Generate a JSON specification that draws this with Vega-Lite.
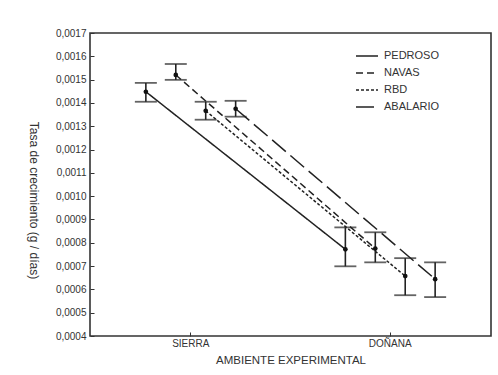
{
  "$schema": "https://vega.github.io/schema/vega-lite/v6.json",
  "width": 401,
  "height": 303,
  "autosize": "none",
  "padding": {"left": 90, "top": 33, "right": 7, "bottom": 39},
  "background": "white",
  "config": {
    "font": "Liberation Sans",
    "view": {"stroke": "#333333", "strokeWidth": 1.6},
    "axisY": {
      "titleAngle": 90,
      "titleFont": "Liberation Sans",
      "titleFontSize": 12,
      "titleFontWeight": "normal",
      "titleColor": "#333333",
      "titleX": -57,
      "titleY": 167,
      "titleAlign": "center",
      "titleBaseline": "middle",
      "labelOverlap": false,
      "labelFont": "Liberation Sans",
      "labelFontSize": 10,
      "labelColor": "#333333",
      "labelPadding": 8,
      "tickSize": -4,
      "tickColor": "#333333",
      "domain": false,
      "grid": false
    }
  },
  "data": {
    "values": [
      {"ambiente": "SIERRA", "serie": "PEDROSO", "media": 0.001448, "inf": 0.001405, "sup": 0.001486},
      {"ambiente": "SIERRA", "serie": "NAVAS", "media": 0.00152, "inf": 0.001499, "sup": 0.001567},
      {"ambiente": "SIERRA", "serie": "RBD", "media": 0.001366, "inf": 0.001328, "sup": 0.001405},
      {"ambiente": "SIERRA", "serie": "ABALARIO", "media": 0.001375, "inf": 0.001341, "sup": 0.001409},
      {"ambiente": "DOÑANA", "serie": "PEDROSO", "media": 0.000772, "inf": 0.000699, "sup": 0.000866},
      {"ambiente": "DOÑANA", "serie": "NAVAS", "media": 0.000775, "inf": 0.000716, "sup": 0.000845},
      {"ambiente": "DOÑANA", "serie": "RBD", "media": 0.000657, "inf": 0.000575, "sup": 0.000734},
      {"ambiente": "DOÑANA", "serie": "ABALARIO", "media": 0.000644, "inf": 0.000567, "sup": 0.000716}
    ]
  },
  "encoding": {
    "x": {
      "field": "ambiente",
      "type": "nominal",
      "sort": ["SIERRA", "DOÑANA"],
      "scale": {"type": "band", "domain": ["SIERRA", "DOÑANA"], "paddingInner": 0.4, "paddingOuter": 0.205},
      "axis": {
        "title": "AMBIENTE EXPERIMENTAL",
        "titleFont": "Liberation Sans",
        "titleFontSize": 11.5,
        "titleFontWeight": "normal",
        "titleColor": "#333333",
        "titlePadding": 6,
        "labelFont": "Liberation Sans",
        "labelFontSize": 10,
        "labelColor": "#333333",
        "labelAngle": 0,
        "labelPadding": 6,
        "ticks": true,
        "tickSize": -4,
        "tickColor": "#333333",
        "domain": false
      }
    },
    "xOffset": {
      "field": "serie",
      "type": "nominal",
      "sort": ["PEDROSO", "NAVAS", "RBD", "ABALARIO"],
      "scale": {"domain": ["PEDROSO", "NAVAS", "RBD", "ABALARIO"], "paddingInner": 0, "paddingOuter": 0}
    }
  },
  "layer": [
    {
      "mark": {"type": "line", "color": "#222222", "strokeWidth": 1.5},
      "encoding": {
        "y": {
          "field": "media",
          "type": "quantitative",
          "scale": {"domain": [0.0004, 0.0017], "nice": false, "zero": false},
          "axis": {
            "title": "Tasa de crecimiento (g / días)",
            "values": [0.0004, 0.0005, 0.0006, 0.0007, 0.0008, 0.0009, 0.001, 0.0011, 0.0012, 0.0013, 0.0014, 0.0015, 0.0016, 0.0017],
            "labelExpr": "replace(format(datum.value, '.4f'), '.', ',')"
          }
        },
        "strokeDash": {
          "field": "serie",
          "type": "nominal",
          "scale": {"domain": ["PEDROSO", "NAVAS", "RBD", "ABALARIO"], "range": [[1, 0], [7, 4], [3, 2], [18, 6]]},
          "legend": {
            "title": null,
            "orient": "none",
            "legendX": 265,
            "legendY": 11,
            "symbolType": "stroke",
            "symbolSize": 484,
            "symbolStrokeWidth": 1.5,
            "symbolStrokeColor": "#222222",
            "labelFont": "Liberation Sans",
            "labelFontSize": 11,
            "labelColor": "#333333",
            "rowPadding": -5.5,
            "labelOffset": 5
          }
        }
      }
    },
    {
      "mark": {"type": "rule", "color": "#222222", "strokeWidth": 1.6},
      "encoding": {
        "y": {
          "field": "inf",
          "type": "quantitative",
          "axis": {
            "title": "Tasa de crecimiento (g / días)",
            "values": [0.0004, 0.0005, 0.0006, 0.0007, 0.0008, 0.0009, 0.001, 0.0011, 0.0012, 0.0013, 0.0014, 0.0015, 0.0016, 0.0017],
            "labelExpr": "replace(format(datum.value, '.4f'), '.', ',')"
          }
        },
        "y2": {"field": "sup"}
      }
    },
    {
      "mark": {"type": "tick", "color": "#222222", "thickness": 1.8, "size": 22, "orient": "horizontal"},
      "encoding": {
        "y": {
          "field": "inf",
          "type": "quantitative",
          "axis": {
            "title": "Tasa de crecimiento (g / días)",
            "values": [0.0004, 0.0005, 0.0006, 0.0007, 0.0008, 0.0009, 0.001, 0.0011, 0.0012, 0.0013, 0.0014, 0.0015, 0.0016, 0.0017],
            "labelExpr": "replace(format(datum.value, '.4f'), '.', ',')"
          }
        }
      }
    },
    {
      "mark": {"type": "tick", "color": "#222222", "thickness": 1.8, "size": 22, "orient": "horizontal"},
      "encoding": {
        "y": {
          "field": "sup",
          "type": "quantitative",
          "axis": {
            "title": "Tasa de crecimiento (g / días)",
            "values": [0.0004, 0.0005, 0.0006, 0.0007, 0.0008, 0.0009, 0.001, 0.0011, 0.0012, 0.0013, 0.0014, 0.0015, 0.0016, 0.0017],
            "labelExpr": "replace(format(datum.value, '.4f'), '.', ',')"
          }
        }
      }
    },
    {
      "mark": {"type": "point", "filled": true, "color": "#111111", "size": 22, "opacity": 1},
      "encoding": {
        "y": {
          "field": "media",
          "type": "quantitative",
          "axis": {
            "title": "Tasa de crecimiento (g / días)",
            "values": [0.0004, 0.0005, 0.0006, 0.0007, 0.0008, 0.0009, 0.001, 0.0011, 0.0012, 0.0013, 0.0014, 0.0015, 0.0016, 0.0017],
            "labelExpr": "replace(format(datum.value, '.4f'), '.', ',')"
          }
        }
      }
    }
  ]
}
